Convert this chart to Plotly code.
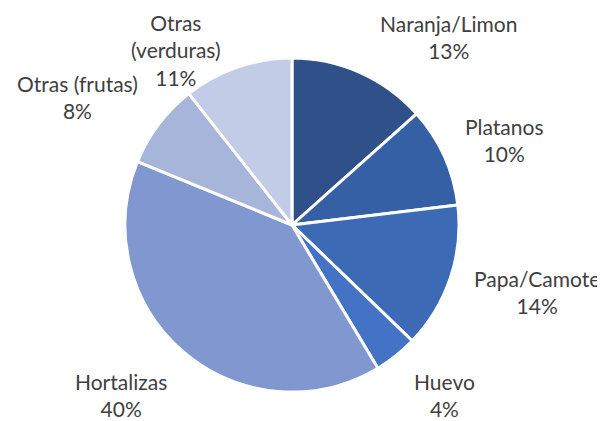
import plotly.graph_objects as go

categories = ["Naranja/Limon", "Platanos", "Papa/Camote", "Huevo", "Hortalizas", "Otras (frutas)", "Otras<br>(verduras)"]
values = [13.4, 9.7, 14.1, 4.2, 39.8, 8.2, 10.6]
colors = ["#2F5089", "#3660A5", "#3D6AB5", "#4472C4", "#8098CF", "#A7B5DA", "#C3CCE6"]
# label centre positions in pixels (style only; page has an 8px body margin)
label_pos = [(440, 29), (497, 132), (529, 284), (436, 387), (113, 387), (69, 89), (168, 42)]

W, H = 605, 421
cx, cy, r = 284, 217, 167

fig = go.Figure(go.Pie(
    labels=categories,
    values=values,
    sort=False,
    direction="clockwise",
    rotation=0,
    marker=dict(colors=colors, line=dict(color="white", width=3)),
    textinfo="none",
    showlegend=False,
    hoverinfo="label+percent",
    domain=dict(x=[(cx - r) / W, (cx + r) / W], y=[1 - (cy + r) / H, 1 - (cy - r) / H]),
))
total = sum(values)
for lab, v, (px, py) in zip(categories, values, label_pos):
    fig.add_annotation(
        x=px / W, y=1 - py / H, xref="paper", yref="paper",
        text=f"{lab}<br>{round(100 * v / total)}%",
        showarrow=False, xanchor="center", yanchor="middle",
        font=dict(family="Lato", size=21, color="#404040"),
    )
fig.update_layout(
    width=W, height=H,
    margin=dict(l=0, r=0, t=0, b=0),
    paper_bgcolor="white",
)
fig.write_html("out.html")
